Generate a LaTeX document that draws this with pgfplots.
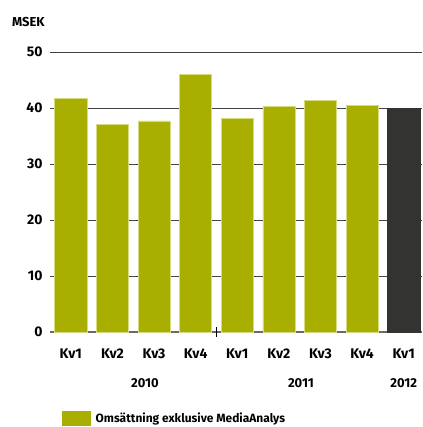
\documentclass[border=0pt]{standalone}
\usepackage{fontspec}
\setmainfont{Fira Sans}
\usepackage{pgfplots}
\pgfplotsset{compat=1.18}
\definecolor{barGreen}{HTML}{A8AF00}
\definecolor{barEdge}{HTML}{D6DA80}
\definecolor{barDark}{HTML}{333331}
\definecolor{gridc}{HTML}{444444}
\definecolor{axisc}{HTML}{6A6A6A}
\begin{document}
\begin{tikzpicture}
\begin{axis}[
  name=ax,
  scale only axis,
  width=372bp, height=280bp,
  at={(0,0)}, anchor=south west,
  xmin=-0.5, xmax=8.44,
  ymin=0, ymax=50,
  clip=false,
  axis x line=bottom, axis y line=left,
  axis line style={-},
  x axis line style={axisc, line width=1.3bp},
  y axis line style={draw=none},
  ytick={0,10,20,30,40,50},
  ymajorgrids,
  grid style={gridc, line width=0.9bp},
  ytick style={draw=none},
  xtick={0,...,8},
  xticklabels={Kv1,Kv2,Kv3,Kv4,Kv1,Kv2,Kv3,Kv4,Kv1},
  xtick style={draw=black, line width=1bp},
  major tick length=0pt,
  extra x ticks={3.5},
  extra x tick labels={},
  extra x tick style={major tick length=10bp, tick align=center},
  tick label style={font=\fontsize{14}{16}\selectfont\bfseries},
  /pgf/number format/assume math mode=true,
  yticklabel style={xshift=-4bp},
  xticklabel style={yshift=-13bp},
  legend style={at={(rel axis cs:0.032,-0.307)}, anchor=west, draw=none, inner sep=0pt,
    font=\fontsize{12}{14}\selectfont\bfseries, legend cell align=left,
    nodes={inner xsep=5bp}},
  legend image code/.code={\fill[barGreen] (0bp,-7bp) rectangle (28bp,7bp);},
]
\addplot[ybar, bar width=0.77, bar shift=0pt, fill=barGreen, draw=barEdge, line width=0.6bp]
  coordinates {(0,41.7) (1,37.0) (2,37.7) (3,46.0) (4,38.2) (5,40.3) (6,41.4) (7,40.5)};
\addlegendentry{Omsättning exklusive MediaAnalys}
\addplot[ybar, bar width=0.77, bar shift=0pt, fill=barDark, draw=barDark, forget plot]
  coordinates {(8,39.9)};
\node[font=\fontsize{13}{15}\selectfont\bfseries] at (axis cs:1.78,0) [yshift=-51bp] {2010};
\node[font=\fontsize{13}{15}\selectfont\bfseries] at (axis cs:5.53,0) [yshift=-51bp] {2011};
\node[font=\fontsize{13}{15}\selectfont\bfseries] at (axis cs:8.0,0) [yshift=-51bp] {2012};
\node[font=\fontsize{13}{15}\selectfont\bfseries, anchor=west, inner sep=0pt] at (rel axis cs:0,1) [xshift=-38bp, yshift=30bp] {MSEK};
\end{axis}
\pgfresetboundingbox
\useasboundingbox ([xshift=-50bp, yshift=-95bp]ax.south west) rectangle ([yshift=52bp]ax.north east);
\end{tikzpicture}
\end{document}
